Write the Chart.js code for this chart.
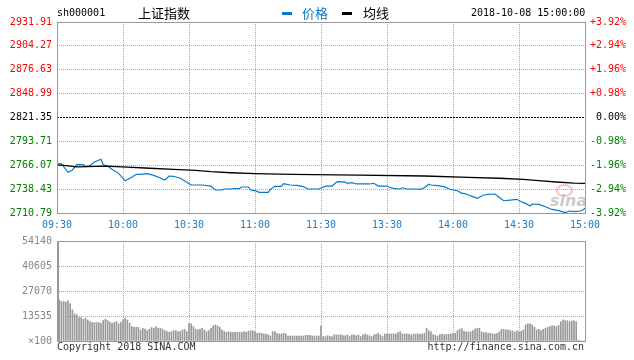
<!DOCTYPE html>
<html><head><meta charset="utf-8">
<script src="https://cdn.jsdelivr.net/npm/chart.js@4/dist/chart.umd.min.js"></script>
<style>
html,body{margin:0;padding:0;background:#fff;}
#wrap{position:relative;width:634px;height:360px;overflow:hidden;font-family:"DejaVu Sans Mono",monospace;}
canvas{position:absolute;left:0;}
.t{position:absolute;white-space:nowrap;line-height:1;}
.cjk{font-family:"Noto Sans CJK SC",sans-serif;font-size:13px;}
.m{font-size:10px;}
</style></head><body>
<div id="wrap">
<canvas id="pc" width="634" height="235" style="top:0"></canvas>
<canvas id="vc" width="634" height="130" style="top:230px"></canvas>
<div class="t m" style="left:57px;top:8px;">sh000001</div>
<div class="t cjk" style="left:138px;top:6px;">上证指数</div>
<div class="t" style="left:282px;top:12px;width:10px;height:3px;background:#0a78c8;"></div>
<div class="t cjk" style="left:302px;top:6px;color:#0a78c8;">价格</div>
<div class="t" style="left:342px;top:12px;width:10px;height:3px;background:#000;"></div>
<div class="t cjk" style="left:363px;top:6px;">均线</div>
<div class="t m" style="left:471px;top:8px;">2018-10-08 15:00:00</div>
<div class="t" style="left:556px;top:184px;width:13px;height:9px;border:2px solid rgba(235,120,120,0.45);border-radius:50%;"></div>
<div class="t" style="left:550px;top:193px;font-family:'DejaVu Sans',sans-serif;font-size:16px;font-weight:bold;font-style:italic;color:rgba(160,160,160,0.55);">sina</div>
<div class="t m" style="left:57px;top:342px;color:#333;">Copyright 2018 SINA.COM</div>
<div class="t m" style="right:50px;top:342px;color:#333;">http://finance.sina.com.cn</div>
</div>
<script>
const prevClose = 2821.35;
const timeTicks = [0,30,60,90,120,150,180,210,240];
const timeLabels = ['09:30','10:00','10:30','11:00','11:30','13:30','14:00','14:30','15:00'];
const priceTickValues = [2710.79,2738.43,2766.07,2793.71,2821.35,2848.99,2876.63,2904.27,2931.91];
const priceTickLabels = ['2710.79','2738.43','2766.07','2793.71','2821.35','2848.99','2876.63','2904.27','2931.91'];
const pctLabels = ['-3.92%','-2.94%','-1.96%','-0.98%','0.00%','+0.98%','+1.96%','+2.94%','+3.92%'];
const volTickValues = [0,13535,27070,40605,54140];
const volTickLabels = ['\u00d7100','13535','27070','40605','54140'];

const priceMinutes = [0,1,2,5,7,9,12,13,15,17,20,21,23,25,28,31,34,36,38,41,44,47,49,51,53,56,59,61,63,66,70,72,75,76,78,83,84,87,88,90,92,96,97,99,102,103,106,109,112,114,119,121,122,125,127,128,131,132,134,136,142,144,146,150,151,153,156,157,159,163,165,167,169,170,173,176,178,180,182,184,185,187,189,191,194,196,199,201,203,206,209,211,213,215,216,219,222,225,228,231,233,235,238,239,240];
const priceValues = [2766.3,2768.0,2767.8,2757.9,2760.6,2766.7,2766.7,2764.4,2765.8,2769.8,2773.0,2766.7,2765.2,2761.4,2756.7,2748.0,2752.1,2755.6,2755.6,2756.3,2754.4,2751.3,2749.0,2753.6,2753.3,2751.0,2746.3,2743.2,2743.2,2743.2,2742.0,2737.4,2737.4,2738.6,2738.6,2739.4,2740.9,2740.9,2737.4,2736.6,2734.7,2734.7,2738.2,2741.7,2741.7,2744.7,2743.2,2742.8,2741.3,2738.6,2738.6,2740.6,2742.0,2742.0,2746.3,2747.0,2746.6,2745.2,2745.9,2744.4,2744.4,2745.2,2742.0,2742.0,2740.6,2739.4,2738.6,2740.0,2738.6,2738.6,2738.2,2740.0,2744.1,2743.2,2742.5,2741.3,2738.8,2737.4,2736.6,2733.5,2733.5,2731.6,2729.7,2727.8,2731.6,2732.4,2732.8,2729.0,2725.0,2725.8,2726.6,2723.8,2721.9,2718.9,2721.2,2720.8,2718.0,2714.9,2713.5,2711.2,2713.1,2712.3,2713.1,2714.3,2716.2];

const avgMinutes = [0,2,9,22,32,40,53,63,70,79,90,107,137,167,187,201,212,219,227,235,240];
const avgValues = [2766.2,2766.2,2764.3,2765.1,2764.0,2762.9,2761.4,2760.2,2758.6,2757.4,2756.3,2755.5,2754.6,2753.6,2752.1,2751.0,2749.8,2748.2,2746.7,2745.4,2745.0];

const volumes = [22800,22300,21400,21400,21100,21800,20200,16900,14700,14200,
12700,12700,11800,12400,11400,10500,10000,10000,10000,10000,
9600,11100,11800,11100,10200,9600,10000,10500,9300,10200,
11400,12400,11400,9600,7800,7400,7400,7400,6000,6900,
6400,5600,6400,7300,6900,7800,6900,6900,6400,5600,
5100,4700,5100,5600,5600,5100,5100,6000,6400,5100,
9600,9300,7800,6400,6000,6400,6900,6000,5100,5600,
6900,8200,8700,8200,7400,6000,5100,4700,5100,4700,
4700,4700,4700,4700,4700,5100,4700,5400,5400,5600,
5100,4200,4200,4200,3800,3800,3400,2700,5100,5100,
4200,3800,3800,4200,3800,2700,2700,2700,2700,2700,
2700,2700,2700,3100,3100,3100,2700,2700,2700,2700,
8200,2400,2400,2900,2400,2400,3300,3300,3300,3300,
2900,2900,3300,2400,3300,3300,2900,3300,2400,3300,
3800,3300,2900,2400,3300,3600,4200,3300,2400,3800,
3800,3800,3800,3800,3800,4500,5100,3800,3800,3800,
3800,3300,3800,3800,3800,3800,3800,4200,6900,5600,
4900,3500,3100,2700,3500,3800,3300,3600,3600,3800,
4200,4200,5600,6400,6700,5300,4900,4900,4900,5600,
6400,6900,6900,5000,4500,4500,4200,4200,3800,3800,
4200,4900,6300,6300,6000,6000,5600,5600,4900,5600,
4900,5300,6000,8700,9300,9300,8700,7400,6000,6300,
5600,6300,6900,7400,7800,8200,8200,7800,8500,10400,
11400,11000,11000,10400,10700,11000,10400,500,0,0,0];

const MONO = {family:'DejaVu Sans Mono', size:10};
const RED = '#ff0000', GREEN = '#008000', BLUE = '#0a78c8';

function setTicks(vals){ return s => { s.ticks = vals.map(v => ({value:v})); }; }
function priceColor(ctx){
  const v = ctx.tick ? ctx.tick.value : 0;
  if (Math.abs(v - prevClose) < 0.001) return '#000';
  return v > prevClose ? RED : GREEN;
}
function framePlugin(leftThick){
  return {id:'frame', afterDraw(chart){
    const {ctx, chartArea:a} = chart;
    ctx.save();
    ctx.strokeStyle = '#999'; ctx.lineWidth = 1; ctx.setLineDash([]);
    ctx.strokeRect(Math.round(a.left)+0.5, Math.round(a.top)+0.5, Math.round(a.right)-Math.round(a.left), Math.round(a.bottom)-Math.round(a.top));
    if (leftThick){ ctx.beginPath(); ctx.moveTo(Math.round(a.left)+1.5, a.top); ctx.lineTo(Math.round(a.left)+1.5, a.bottom); ctx.stroke(); }
    ctx.restore();
  }};
}

new Chart(document.getElementById('pc'), {
  type:'line',
  data:{datasets:[
    {label:'昨收', data:[{x:0,y:prevClose},{x:240,y:prevClose}], borderColor:'#000', borderWidth:1, borderDash:[2,1], pointRadius:0},
    {label:'均线', data:avgMinutes.map((m,k)=>({x:m,y:avgValues[k]})), borderColor:'#000', borderWidth:1.3, pointRadius:0, tension:0},
    {label:'价格', data:priceMinutes.map((m,k)=>({x:m,y:priceValues[k]})), borderColor:BLUE, borderWidth:1.2, pointRadius:0, tension:0}
  ]},
  options:{
    responsive:false, animation:false, events:[],
    layout:{padding:{top:22,right:8,left:0,bottom:0}},
    plugins:{legend:{display:false}, tooltip:{enabled:false}},
    scales:{
      x:{type:'linear', min:0, max:240, afterBuildTicks:setTicks(timeTicks), afterFit:s=>{s.height=22;},
         ticks:{autoSkip:false, maxRotation:0, padding:6, color:'#1f7cc8', font:MONO, callback:(v,i)=>timeLabels[i]},
         grid:{color:'#aaa', drawTicks:false}, border:{display:false, dash:[1,1]}},
      y:{position:'left', min:2710.79, max:2931.91, afterBuildTicks:setTicks(priceTickValues), afterFit:s=>{s.width=57;},
         ticks:{padding:5, color:priceColor, font:MONO, callback:(v,i)=>priceTickLabels[i]},
         grid:{color:ctx=> (ctx.tick && Math.abs(ctx.tick.value-prevClose)<0.001) ? 'rgba(0,0,0,0)' : '#aaa', drawTicks:false},
         border:{display:false, dash:[1,1]}},
      y2:{position:'right', min:2710.79, max:2931.91, afterBuildTicks:setTicks(priceTickValues), afterFit:s=>{s.width=41;},
         ticks:{padding:5, crossAlign:'far', color:priceColor, font:MONO, callback:(v,i)=>pctLabels[i]},
         grid:{display:false, drawTicks:false}, border:{display:false}}
    }
  },
  plugins:[framePlugin(false)]
});

new Chart(document.getElementById('vc'), {
  type:'bar',
  data:{datasets:[{label:'成交量', data:volumes.map((v,i)=>({x:i,y:v})), backgroundColor:'#999', barThickness:1, borderWidth:0}]},
  options:{
    responsive:false, animation:false, events:[],
    layout:{padding:{top:11,right:49,left:0,bottom:0}},
    plugins:{legend:{display:false}, tooltip:{enabled:false}},
    scales:{
      x:{type:'linear', min:0, max:240, offset:false, afterBuildTicks:setTicks(timeTicks), afterFit:s=>{s.height=19;},
         ticks:{display:false}, grid:{color:'#aaa', drawTicks:false, offset:false}, border:{display:false, dash:[1,1]}},
      y:{position:'left', min:0, max:54140, afterBuildTicks:setTicks(volTickValues), afterFit:s=>{s.width=57;},
         ticks:{padding:5, color:'#888', font:MONO, callback:(v,i)=>volTickLabels[i]},
         grid:{color:'#aaa', drawTicks:false}, border:{display:false, dash:[1,1]}}
    }
  },
  plugins:[framePlugin(true)]
});
</script>
</body></html>
